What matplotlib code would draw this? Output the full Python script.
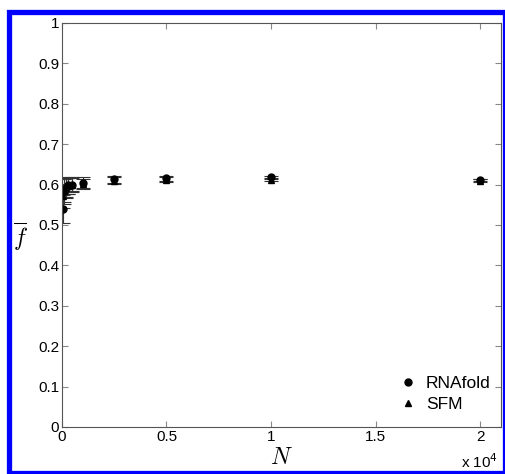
import matplotlib
matplotlib.use("Agg")
import matplotlib.pyplot as plt
from matplotlib.patches import Rectangle
from matplotlib.lines import Line2D

plt.rcParams['font.family'] = ['Liberation Sans', 'DejaVu Sans']
plt.rcParams['mathtext.fontset'] = 'cm'

# sample sizes N
n_values = [50, 100, 200, 300, 500, 1000, 2500, 5000, 10000, 20000]

# RNAfold mean f and error
rnafold_f = [0.540, 0.583, 0.592, 0.598, 0.600, 0.605, 0.613, 0.616, 0.618, 0.611]
rnafold_err = [0.035, 0.030, 0.025, 0.022, 0.018, 0.013, 0.008, 0.006, 0.004, 0.003]

# SFM mean f and error
sfm_f = [0.572, 0.585, 0.593, 0.597, 0.600, 0.601, 0.610, 0.612, 0.612, 0.610]
sfm_err = [0.030, 0.028, 0.024, 0.020, 0.017, 0.012, 0.008, 0.006, 0.004, 0.003]

x_ticks = [0, 5000, 10000, 15000, 20000]
x_tick_labels = ['0', '0.5', '1', '1.5', '2']
y_ticks = [0, 0.1, 0.2, 0.3, 0.4, 0.5, 0.6, 0.7, 0.8, 0.9, 1]
y_tick_labels = ['0', '0.1', '0.2', '0.3', '0.4', '0.5', '0.6', '0.7', '0.8', '0.9', '1']

fig = plt.figure(figsize=(5.06, 4.74), dpi=100)
ax = fig.add_axes([0.1225, 0.0992, 0.8675, 0.8523])

ax.errorbar(n_values, rnafold_f, yerr=rnafold_err, fmt='o', color='black',
            ecolor='#333333', elinewidth=0.8, capsize=5, capthick=0.8,
            markersize=5)
ax.errorbar(n_values, sfm_f, yerr=sfm_err, fmt='^', color='black',
            ecolor='#333333', elinewidth=0.8, capsize=5, capthick=0.8,
            markersize=5)

ax.set_xlim(0, 21000)
ax.set_ylim(0, 1)
ax.set_xticks(x_ticks)
ax.set_xticklabels(x_tick_labels)
ax.set_yticks(y_ticks)
ax.set_yticklabels(y_tick_labels)
ax.tick_params(direction='in', top=True, right=True, length=4, width=0.8,
               color='#888888', labelsize=11, pad=2)
for s in ax.spines.values():
    s.set_color('#555555')
    s.set_linewidth(0.8)

ax.set_xlabel('$N$', fontsize=17, labelpad=0)
ax.xaxis.set_label_coords(0.5, -0.05)
ax.set_ylabel('$\\overline{f}$', fontsize=17, rotation=0)
ax.yaxis.set_label_coords(-0.095, 0.43)
fig.text(0.948, 0.006, 'x 10$^{4}$', fontsize=11, ha='center', va='bottom',
         math_fontfamily='dejavusans')

handles = [Line2D([], [], ls='none', marker='o', color='black', markersize=5),
           Line2D([], [], ls='none', marker='^', color='black', markersize=5)]
ax.legend(handles, ['RNAfold', 'SFM'], loc='lower right', frameon=False,
          fontsize=12.5, handletextpad=0.4, handlelength=1.2,
          bbox_to_anchor=(1.0, 0.012), borderaxespad=0.2, labelspacing=0.3)

# blue frame around the figure
fig.patches.append(Rectangle((8.5 / 506, 1 / 474), 497 / 506, 461.5 / 474,
                             transform=fig.transFigure, fill=False,
                             edgecolor='#0000ff', linewidth=3.8, zorder=10))

fig.savefig('out.png', dpi=100)
